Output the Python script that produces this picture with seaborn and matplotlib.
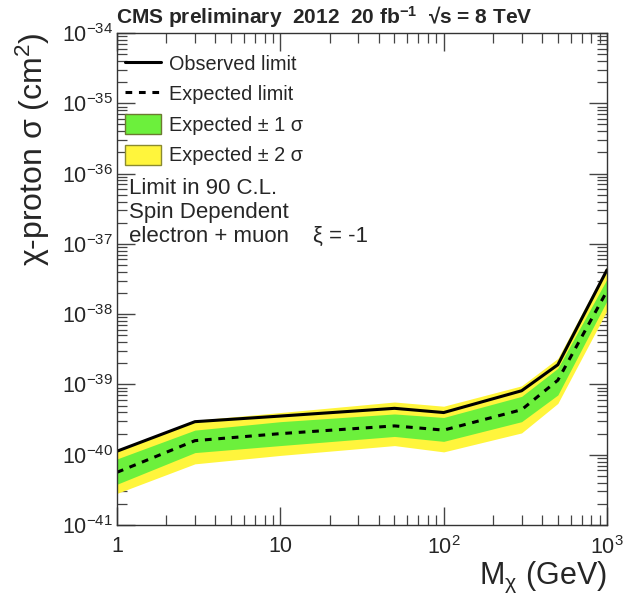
import numpy as np
import pandas as pd
import seaborn as sns
import matplotlib.pyplot as plt
from matplotlib.lines import Line2D
from matplotlib.patches import Patch
from matplotlib.ticker import LogLocator, FixedLocator, FixedFormatter, NullFormatter, LogFormatterMathtext

# data (log10 of cross section in cm^2)
mass = [1, 3, 10, 50, 100, 300, 500, 1000]
obs_log = [-39.95, -39.53, -39.45, -39.34, -39.40, -39.09, -38.72, -37.37]
exp_log = [-40.25, -39.80, -39.70, -39.59, -39.65, -39.36, -38.94, -37.67]
s1_up_log = [-40.06, -39.65, -39.53, -39.42, -39.47, -39.17, -38.77, -37.50]
s1_dn_log = [-40.42, -39.97, -39.87, -39.74, -39.81, -39.53, -39.15, -37.81]
s2_up_log = [-39.93, -39.51, -39.40, -39.25, -39.31, -39.02, -38.63, -37.32]
s2_dn_log = [-40.55, -40.13, -40.01, -39.87, -39.96, -39.69, -39.27, -37.95]
xtick_vals = [1, 10, 100, 1000]
xtick_labels = ["1", "10", "$10^{2}$", "$10^{3}$"]
ytick_exps = [-41, -40, -39, -38, -37, -36, -35, -34]

df = pd.DataFrame({
    "mass": mass,
    "observed": 10.0 ** np.array(obs_log),
    "expected": 10.0 ** np.array(exp_log),
    "s1_up": 10.0 ** np.array(s1_up_log),
    "s1_dn": 10.0 ** np.array(s1_dn_log),
    "s2_up": 10.0 ** np.array(s2_up_log),
    "s2_dn": 10.0 ** np.array(s2_dn_log),
})

sns.set_style("ticks")
plt.rcParams["font.family"] = ["Liberation Sans", "DejaVu Sans"]
plt.rcParams["mathtext.fontset"] = "custom"
plt.rcParams["mathtext.rm"] = "Liberation Sans"
plt.rcParams["mathtext.it"] = "Liberation Sans:italic"
plt.rcParams["mathtext.bf"] = "Liberation Sans:bold"

green = "#6cf03c"
yellow = "#fff53c"

fig = plt.figure(figsize=(6.24, 5.96), dpi=100)
ax = fig.add_axes([117 / 624, 1 - 525 / 596, 490 / 624, 492 / 596])

ax.fill_between(df["mass"], df["s2_dn"], df["s2_up"], color=yellow, lw=0)
ax.fill_between(df["mass"], df["s1_dn"], df["s1_up"], color=green, lw=0)
sns.lineplot(data=df, x="mass", y="expected", ax=ax, color="black", lw=2.2,
             linestyle=(0, (2.2, 2.2)))
sns.lineplot(data=df, x="mass", y="observed", ax=ax, color="black", lw=2.2)

ax.set_xscale("log")
ax.set_yscale("log")
ax.set_xlim(1, 1000)
ax.set_ylim(1e-41, 1e-34)

ax.xaxis.set_major_locator(FixedLocator(xtick_vals))
ax.xaxis.set_major_formatter(FixedFormatter(xtick_labels))
ax.xaxis.set_minor_locator(LogLocator(base=10, subs=np.arange(2, 10), numticks=20))
ax.xaxis.set_minor_formatter(NullFormatter())
ax.yaxis.set_major_locator(FixedLocator([10.0 ** e for e in ytick_exps]))
ax.yaxis.set_major_formatter(LogFormatterMathtext())
ax.yaxis.set_minor_locator(LogLocator(base=10, subs=np.arange(2, 10), numticks=40))
ax.yaxis.set_minor_formatter(NullFormatter())

ax.tick_params(which="both", direction="in", top=True, right=True, color="#444444")
ax.tick_params(which="major", length=13, width=1, labelsize=15.5)
ax.tick_params(which="minor", length=7, width=0.9)
ax.tick_params(axis="x", which="major", pad=8)
ax.tick_params(axis="y", which="major", pad=3)
for sp in ax.spines.values():
    sp.set_color("#333333")
    sp.set_linewidth(1.0)

ax.set_xlabel("M$_{\\mathrm{χ}}$ (GeV)", fontsize=22, loc="right")
ax.xaxis.set_label_coords(1.0, -0.07)
ax.set_ylabel("χ-proton σ (cm$^{2}$)", fontsize=23, loc="top")
ax.yaxis.set_label_coords(-0.132, 1.0)

handles = [
    Line2D([], [], color="black", lw=2.2),
    Line2D([], [], color="black", lw=2.2, linestyle=(0, (2.2, 2.2))),
    Patch(facecolor=green, edgecolor="#6b7a30", lw=1),
    Patch(facecolor=yellow, edgecolor="#8a8a30", lw=1),
]
labels = ["Observed limit", "Expected limit", "Expected ± 1 σ", "Expected ± 2 σ"]
ax.legend(handles, labels, loc="upper left", bbox_to_anchor=(0.0, 0.975),
          frameon=False, fontsize=14.3, handlelength=1.8, handleheight=1.15,
          labelspacing=0.5, handletextpad=0.42, borderaxespad=0.2, borderpad=0.2)

ax.text(0.024, 0.684, "Limit in 90 C.L.", transform=ax.transAxes, fontsize=16, va="center")
ax.text(0.024, 0.636, "Spin Dependent", transform=ax.transAxes, fontsize=16, va="center")
ax.text(0.024, 0.587, "electron + muon", transform=ax.transAxes, fontsize=16, va="center")
ax.text(0.40, 0.587, "ξ = -1", transform=ax.transAxes, fontsize=16, va="center")

fig.text(116 / 624, 1 - 17 / 596,
         "CMS preliminary  2012  20 fb$^{\\mathbf{-1}}$  √s = 8 TeV",
         fontsize=15, fontweight="bold", va="center", ha="left")

fig.savefig("out.png", dpi=100, facecolor="white")
